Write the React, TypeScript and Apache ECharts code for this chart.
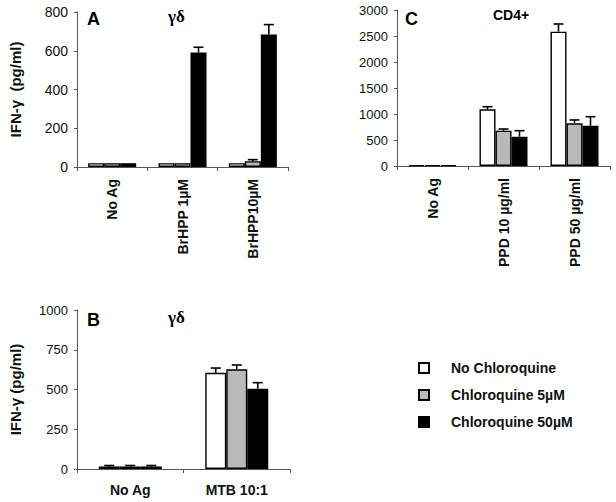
import React, { useEffect, useRef } from 'react';
import * as echarts from 'echarts';

const seriesNames = ['No Chloroquine', 'Chloroquine 5µM', 'Chloroquine 50µM'];
const fills = ['#ffffff', '#b9b9b9', '#000000'];

// Panel A (γδ)
const categoriesA = ['No Ag', 'BrHPP 1µM', 'BrHPP10µM'];
const meanA_none = [20, 20, 20];
const meanA_5 = [20, 20, 30];
const meanA_50 = [20, 591, 684];
const sdA_none = [0, 0, 0];
const sdA_5 = [0, 0, 8];
const sdA_50 = [0, 27, 51];
const ticksA = { min: 0, max: 800, interval: 200 };

// Panel B (γδ)
const categoriesB = ['No Ag', 'MTB 10:1'];
const meanB_none = [16, 605];
const meanB_5 = [16, 627];
const meanB_50 = [16, 505];
const sdB_none = [6, 30];
const sdB_5 = [6, 27];
const sdB_50 = [6, 38];
const ticksB = { min: 0, max: 1000, interval: 250 };

// Panel C (CD4+)
const categoriesC = ['No Ag', 'PPD 10 µg/ml', 'PPD 50 µg/ml'];
const meanC_none = [15, 1090, 2583];
const meanC_5 = [15, 679, 821];
const meanC_50 = [15, 564, 775];
const sdC_none = [0, 50, 148];
const sdC_5 = [0, 32, 64];
const sdC_50 = [0, 115, 173];
const ticksC = { min: 0, max: 3000, interval: 500 };

const FONT = '"Liberation Sans", Arial, Helvetica, sans-serif';
const SERIF = '"Liberation Serif", "DejaVu Serif", serif';

type Panel = {
  cats: string[];
  means: number[][];
  sds: number[][];
  ticks: { min: number; max: number; interval: number };
  grid: { left: number; top: number; width: number; height: number };
  barWidth: number;
  rotate: number;
  yName: string | null;
  tickFont: number;
};

const panels: Panel[] = [
  {
    cats: categoriesA,
    means: [meanA_none, meanA_5, meanA_50],
    sds: [sdA_none, sdA_5, sdA_50],
    ticks: ticksA,
    grid: { left: 77, top: 12, width: 211, height: 155 },
    barWidth: 16,
    rotate: 90,
    yName: 'IFN-γ  (pg/ml)',
    tickFont: 14,
  },
  {
    cats: categoriesB,
    means: [meanB_none, meanB_5, meanB_50],
    sds: [sdB_none, sdB_5, sdB_50],
    ticks: ticksB,
    grid: { left: 77, top: 310, width: 213, height: 159 },
    barWidth: 21,
    rotate: 0,
    yName: 'IFN-γ (pg/ml)',
    tickFont: 13,
  },
  {
    cats: categoriesC,
    means: [meanC_none, meanC_5, meanC_50],
    sds: [sdC_none, sdC_5, sdC_50],
    ticks: ticksC,
    grid: { left: 397, top: 10, width: 213, height: 156 },
    barWidth: 16,
    rotate: 90,
    yName: null,
    tickFont: 13,
  },
];

function buildOption() {
  const grid = panels.map((p) => ({ ...p.grid, containLabel: false }));
  const xAxis = panels.map((p, i) => ({
    type: 'category',
    gridIndex: i,
    data: p.cats,
    axisLine: { show: true, lineStyle: { color: '#555', width: 1 } },
    axisTick: { show: true, length: 4, lineStyle: { color: '#555' } },
    axisLabel: {
      rotate: p.rotate,
      margin: p.rotate ? 12 : 14,
      fontFamily: FONT,
      fontWeight: 'bold',
      fontSize: 14,
      color: '#111',
      interval: 0,
    },
  }));
  const yAxis = panels.map((p, i) => ({
    type: 'value',
    gridIndex: i,
    min: p.ticks.min,
    max: p.ticks.max,
    interval: p.ticks.interval,
    splitLine: { show: false },
    axisLine: { show: true, lineStyle: { color: '#555', width: 1 } },
    axisTick: { show: true, length: 3, lineStyle: { color: '#555' } },
    axisLabel: {
      fontFamily: FONT,
      fontSize: p.tickFont,
      color: '#111',
      margin: 9,
      formatter: (v: number) => String(v),
    },
    name: p.yName || '',
    nameLocation: 'middle',
    nameRotate: 90,
    nameGap: 54,
    nameTextStyle: { fontFamily: FONT, fontWeight: 'bold', fontSize: 15, color: '#111' },
  }));

  const series: any[] = [];
  panels.forEach((p, i) => {
    p.means.forEach((vals, k) => {
      series.push({
        type: 'bar',
        name: seriesNames[k],
        xAxisIndex: i,
        yAxisIndex: i,
        data: vals,
        barWidth: p.barWidth,
        barGap: '0%',
        itemStyle: { color: fills[k], borderColor: '#000', borderWidth: 1.4 },
      });
    });
    const errData: number[][] = [];
    p.means.forEach((vals, k) => {
      vals.forEach((v, c) => errData.push([c, v, p.sds[k][c], k]));
    });
    const bw = p.barWidth;
    series.push({
      type: 'custom',
      name: 'err' + i,
      xAxisIndex: i,
      yAxisIndex: i,
      z: 5,
      encode: { x: 0, y: 1 },
      data: errData,
      renderItem: (params: any, api: any) => {
        const c = api.value(0);
        const m = api.value(1);
        const sd = api.value(2);
        const k = api.value(3);
        if (!sd) return null;
        const base = api.coord([c, m]);
        const top = api.coord([c, m + sd]);
        const x = base[0] + (k - 1) * bw;
        const st = { stroke: '#000', lineWidth: 1.6 };
        return {
          type: 'group',
          children: [
            { type: 'line', shape: { x1: x, y1: base[1], x2: x, y2: top[1] }, style: st },
            { type: 'line', shape: { x1: x - 5, y1: top[1], x2: x + 5, y2: top[1] }, style: st },
          ],
        };
      },
    });
  });

  const label = (text: string, x: number, y: number, font: string) => ({
    type: 'text',
    x,
    y,
    style: {
      text,
      font,
      fill: '#000',
      textAlign: 'left',
      textVerticalAlign: 'middle',
      align: 'left',
      verticalAlign: 'middle',
    },
  });

  return {
    animation: false,
    backgroundColor: '#fff',
    grid,
    xAxis,
    yAxis,
    series,
    legend: {
      data: seriesNames,
      orient: 'vertical',
      left: 418,
      top: 361,
      padding: 0,
      icon: 'rect',
      itemWidth: 10,
      itemHeight: 10,
      itemGap: 13,
      textStyle: {
        fontFamily: FONT,
        fontWeight: 'bold',
        fontSize: 14,
        color: '#111',
        padding: [0, 0, 0, 17],
      },
    },
    graphic: [
      label('A', 87, 19, 'bold 18px ' + FONT),
      label('γδ', 168, 16, 'bold 17px ' + SERIF),
      label('C', 405, 19, 'bold 18px ' + FONT),
      label('CD4+', 493, 15, 'bold 14px ' + FONT),
      label('B', 87, 320, 'bold 18px ' + FONT),
      label('γδ', 168, 317, 'bold 17px ' + SERIF),
    ],
  };
}

export default function App() {
  const ref = useRef<HTMLDivElement>(null);
  useEffect(() => {
    if (!ref.current) return;
    const chart = echarts.init(ref.current, undefined, { renderer: 'svg' });
    chart.setOption(buildOption() as any);
    return () => chart.dispose();
  }, []);
  return (
    <div
      ref={ref}
      style={{ position: 'absolute', left: 0, top: 0, width: 616, height: 502, background: '#fff' }}
    />
  );
}
